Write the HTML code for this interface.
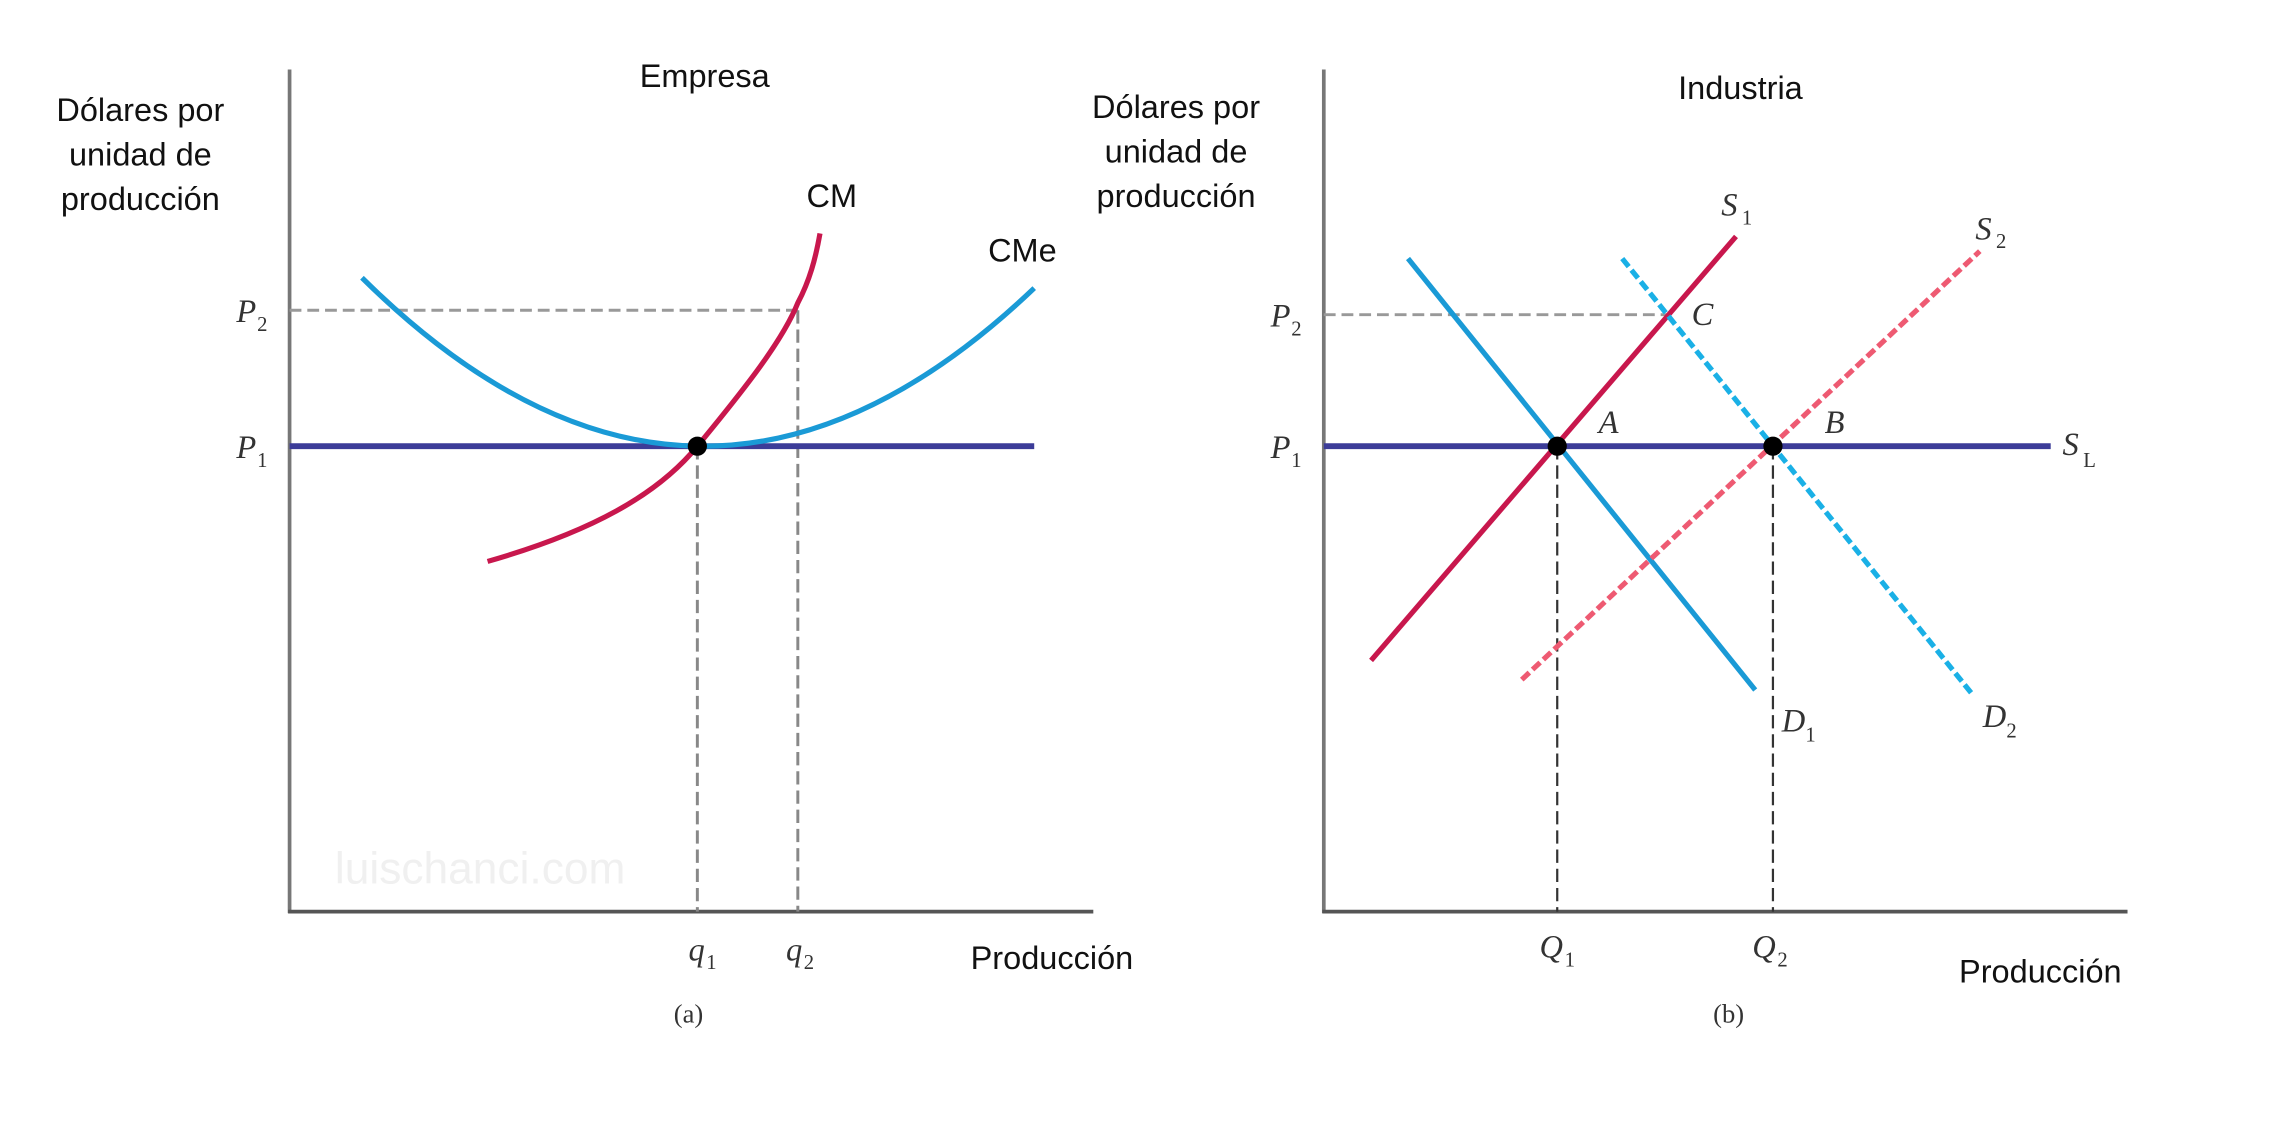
<!DOCTYPE html>
<html><head><meta charset="utf-8"><style>
html,body{margin:0;padding:0;background:#fff;}
svg{display:block;}
.s{font-family:"Liberation Sans",sans-serif;font-size:22px;fill:#111;}
.m{font-family:"Liberation Serif",serif;font-style:italic;font-size:22px;fill:#333;}
.sub{font-family:"Liberation Serif",serif;font-size:14px;fill:#333;}
</style></head><body>
<svg width="2293" height="1148" viewBox="0 0 1552 777" preserveAspectRatio="none">
<rect width="1552" height="777" fill="#fff"/>
<!-- Left panel -->
<text class="s" x="477" y="59" text-anchor="middle">Empresa</text>
<text class="s" x="95" y="82" text-anchor="middle">Dólares por</text>
<text class="s" x="95" y="112" text-anchor="middle">unidad  de</text>
<text class="s" x="95" y="142" text-anchor="middle">producción</text>
<text x="325" y="598" text-anchor="middle" style="font-family:'Liberation Sans',sans-serif;font-size:30px;fill:#f0f0f0">luischanci.com</text>
<line x1="196" y1="47" x2="196" y2="618" stroke="#777" stroke-width="2.5"/>
<line x1="195" y1="617" x2="740" y2="617" stroke="#555" stroke-width="2.5"/>
<line x1="196" y1="210" x2="540" y2="210" stroke="#999" stroke-width="2" stroke-dasharray="8,4"/>
<line x1="472" y1="302" x2="472" y2="617" stroke="#888" stroke-width="2" stroke-dasharray="9,4"/>
<line x1="540" y1="210" x2="540" y2="617" stroke="#888" stroke-width="2" stroke-dasharray="9,4"/>
<line x1="196" y1="302" x2="700" y2="302" stroke="#3c3c98" stroke-width="4"/>
<path d="M245,188 Q472,412.5 700,195" fill="none" stroke="#1a9ad6" stroke-width="3.5"/>
<path d="M330,380 C400,360 445,335 472,302 C505,262 530,230 540,205 C548,190 552,175 555,158" fill="none" stroke="#c8174d" stroke-width="3.5"/>
<circle cx="472" cy="302" r="6.5" fill="#000"/>
<text class="s" x="563" y="140" text-anchor="middle">CM</text>
<text class="s" x="692" y="177" text-anchor="middle">CMe</text>
<text class="m" x="160" y="218">P</text><text class="sub" x="174" y="224">2</text>
<text class="m" x="160" y="310">P</text><text class="sub" x="174" y="316">1</text>
<text class="m" x="466" y="650">q</text><text class="sub" x="478" y="656">1</text>
<text class="m" x="532" y="650">q</text><text class="sub" x="544" y="656">2</text>
<text class="s" x="712" y="656" text-anchor="middle">Producción</text>
<text x="466" y="692" text-anchor="middle" style="font-family:'Liberation Serif',serif;font-size:18px;fill:#333">(a)</text>
<!-- Right panel -->
<text class="s" x="1178" y="67" text-anchor="middle">Industria</text>
<text class="s" x="796" y="80" text-anchor="middle">Dólares por</text>
<text class="s" x="796" y="110" text-anchor="middle">unidad  de</text>
<text class="s" x="796" y="140" text-anchor="middle">producción</text>
<line x1="896" y1="47" x2="896" y2="618" stroke="#777" stroke-width="2.5"/>
<line x1="895" y1="617" x2="1440" y2="617" stroke="#555" stroke-width="2.5"/>
<line x1="896" y1="213" x2="1130" y2="213" stroke="#999" stroke-width="2" stroke-dasharray="8,4"/>
<line x1="1054" y1="302" x2="1054" y2="617" stroke="#333" stroke-width="1.5" stroke-dasharray="9,4"/>
<line x1="1200" y1="302" x2="1200" y2="617" stroke="#333" stroke-width="1.5" stroke-dasharray="9,4"/>
<line x1="896" y1="302" x2="1388" y2="302" stroke="#3c3c98" stroke-width="4"/>
<line x1="928" y1="447" x2="1175" y2="160" stroke="#c8174d" stroke-width="3.5"/>
<line x1="953" y1="175" x2="1188" y2="467" stroke="#1a9ad6" stroke-width="3.5"/>
<line x1="1030" y1="460" x2="1340" y2="170" stroke="#ee5a72" stroke-width="3.5" stroke-dasharray="7,3"/>
<line x1="1098" y1="175" x2="1335" y2="470" stroke="#1ab0e6" stroke-width="3.5" stroke-dasharray="7,3"/>
<circle cx="1054" cy="302" r="6.5" fill="#000"/>
<circle cx="1200" cy="302" r="6.5" fill="#000"/>
<text class="m" x="1082" y="293">A</text>
<text class="m" x="1235" y="293">B</text>
<text class="m" x="1145" y="220">C</text>
<text class="m" x="1396" y="308">S</text><text class="sub" x="1410" y="316">L</text>
<text class="m" x="1165" y="146">S</text><text class="sub" x="1179" y="152">1</text>
<text class="m" x="1337" y="162">S</text><text class="sub" x="1351" y="168">2</text>
<text class="m" x="1206" y="495">D</text><text class="sub" x="1222" y="502">1</text>
<text class="m" x="1342" y="492">D</text><text class="sub" x="1358" y="499">2</text>
<text class="m" x="860" y="221">P</text><text class="sub" x="874" y="227">2</text>
<text class="m" x="860" y="310">P</text><text class="sub" x="874" y="316">1</text>
<text class="m" x="1042" y="648">Q</text><text class="sub" x="1059" y="654">1</text>
<text class="m" x="1186" y="648">Q</text><text class="sub" x="1203" y="654">2</text>
<text class="s" x="1381" y="665" text-anchor="middle">Producción</text>
<text x="1170" y="692" text-anchor="middle" style="font-family:'Liberation Serif',serif;font-size:18px;fill:#333">(b)</text>
</svg>
</body></html>
